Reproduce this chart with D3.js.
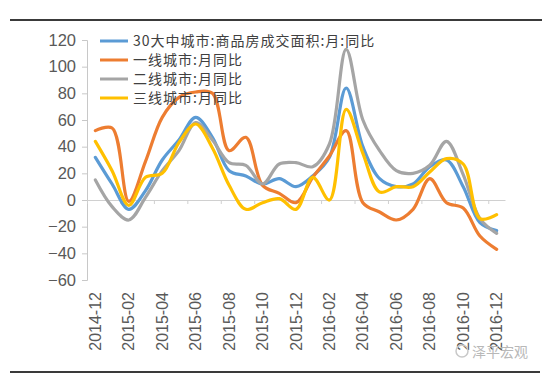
<!DOCTYPE html>
<html>
<head>
<meta charset="utf-8">
<script src="https://cdn.jsdelivr.net/npm/d3@7"></script>
<style>
  body { margin: 0; background: #fff; }
  svg { display: block; }
</style>
</head>
<body>
<div id="chart"></div>
<script>
const months = ['2014-12','2015-01','2015-02','2015-03','2015-04','2015-05','2015-06','2015-07','2015-08',
  '2015-09','2015-10','2015-11','2015-12','2016-01','2016-02','2016-03','2016-04','2016-05','2016-06',
  '2016-07','2016-08','2016-09','2016-10','2016-11','2016-12'];

const city30 = [32, 12, -7, 7, 30, 45, 62, 47, 22, 18, 12, 16, 10, 18, 32, 84, 40, 16, 10, 12, 25, 30, 10, -17, -23];
const tier1  = [52, 54, -1, 29, 62, 77, 81, 80, 37, 47, 11, 5, -2, 17, 33, 52, -2, -9, -15, -7, 16, -2, -6, -27, -37];
const tier2  = [15, -5, -15, 2, 22, 37, 58, 45, 28, 26, 12, 27, 28, 25, 42, 113, 60, 37, 22, 20, 26, 44, 19, -14, -25];
const tier3  = [44, 22, -4, 17, 20, 43, 57, 39, 11, -7, -2, 1, -7, 17, 0, 68, 35, 6, 10, 10, 21, 31, 27, -14, -11];

const yTicks = [-60, -40, -20, 0, 20, 40, 60, 80, 100, 120];
const xLabels = months.filter((m, i) => i % 2 === 0);

const seriesNames = ['30大中城市:商品房成交面积:月:同比', '一线城市:月同比', '二线城市:月同比', '三线城市:月同比'];
const seriesColors = ['#5B9BD5', '#ED7D31', '#A5A5A5', '#FFC000'];
const seriesData = [city30, tier1, tier2, tier3];

const W = 550, H = 389;
const plot = {left: 87, right: 505, top: 40, bottom: 280};

const svg = d3.select('#chart').append('svg')
  .attr('width', W)
  .attr('height', H);

// 상단/하단 구분선
svg.append('line').attr('x1', 10).attr('x2', 542).attr('y1', 20).attr('y2', 20)
  .attr('stroke', '#3a3a3a').attr('stroke-width', 2);
svg.append('line').attr('x1', 10).attr('x2', 540).attr('y1', 372).attr('y2', 372)
  .attr('stroke', '#3a3a3a').attr('stroke-width', 2);

let x = d3.scalePoint().domain(months).range([plot.left, plot.right]).padding(0.5);
let xb = d3.scaleLinear().domain([0, months.length]).range([plot.left, plot.right]);
let y = d3.scaleLinear().domain([-60, 120]).range([plot.bottom, plot.top]);

/* y축 */
let yAxis = svg.append('g')
  .attr('transform', 'translate(' + plot.left + ',0)')
  .call(d3.axisLeft(y).tickValues(yTicks).tickSize(5).tickSizeOuter(5).tickPadding(6));
yAxis.selectAll('path, line').attr('stroke', '#c8c8c8');
yAxis.selectAll('text')
  .attr('fill', '#595959')
  .style('font-family', 'Liberation Sans, Arial, sans-serif')
  .style('font-size', '16.5px');

/* x축 (0 기준선) */
let xAxis = svg.append('g')
  .attr('transform', 'translate(0,' + y(0) + ')')
  .call(d3.axisBottom(xb).tickValues(d3.range(0, months.length + 1, 2)).tickFormat('').tickSize(4).tickSizeOuter(0));
xAxis.selectAll('path, line').attr('stroke', '#d0d0d0');

svg.append('g').selectAll('text')
  .data(xLabels)
  .join('text')
  .attr('transform', d => 'translate(' + (x(d) + 5.5) + ',' + 292 + ') rotate(-90)')
  .attr('text-anchor', 'end')
  .attr('fill', '#595959')
  .style('font-family', 'Liberation Sans, Arial, sans-serif')
  .style('font-size', '16px')
  .text(d => d);

/* 라인 */
let line = d3.line()
  .x((d, i) => x(months[i]))
  .y(d => y(d))
  .curve(d3.curveCatmullRom.alpha(0.5));

svg.append('g').selectAll('path')
  .data(seriesData)
  .join('path')
  .attr('d', d => line(d))
  .attr('fill', 'none')
  .attr('stroke', (d, i) => seriesColors[i])
  .attr('stroke-width', 3.2)
  .attr('stroke-linejoin', 'round')
  .attr('stroke-linecap', 'round');

/* 범례 */
let legend = svg.append('g').selectAll('g')
  .data(seriesNames)
  .join('g')
  .attr('transform', (d, i) => 'translate(100,' + (41 + i * 19) + ')');

legend.append('line')
  .attr('x1', 0).attr('x2', 28)
  .attr('stroke', (d, i) => seriesColors[i])
  .attr('stroke-width', 3);

legend.append('text')
  .attr('x', 33)
  .attr('dy', '0.35em')
  .attr('fill', '#404040')
  .style('font-family', 'Noto Sans CJK SC, sans-serif')
  .style('font-size', '14px')
  .style('letter-spacing', '1px')
  .text(d => d);

/* 워터마크 */
svg.append('text')
  .attr('x', 472).attr('y', 357)
  .attr('fill', '#b8b8b8')
  .style('font-family', 'Noto Sans CJK SC, sans-serif')
  .style('font-size', '14px')
  .text('泽平宏观');
svg.append('circle')
  .attr('cx', 462).attr('cy', 351).attr('r', 6)
  .attr('fill', 'none').attr('stroke', '#c8c8c8').attr('stroke-width', 1.5);
</script>
</body>
</html>
